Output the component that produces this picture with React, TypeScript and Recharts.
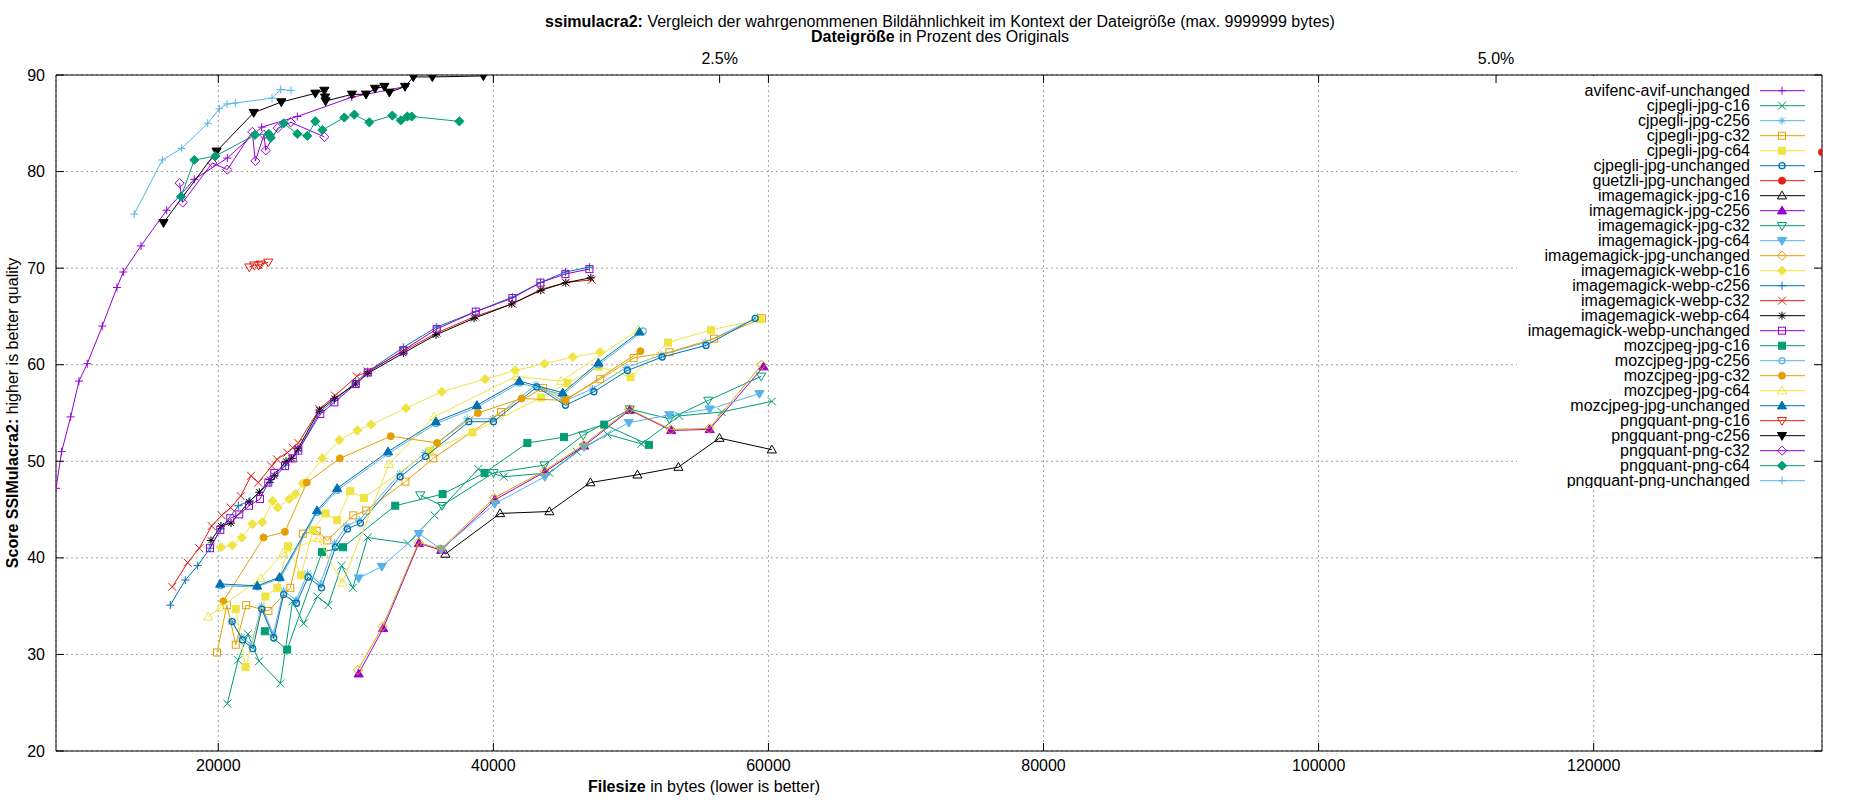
import { ScatterChart, Scatter, XAxis, YAxis, CartesianGrid, Legend } from "recharts";

// file size in bytes, SSIMulacra2 score
const avifencAvifUnchanged = [
  [8200, 47.2], [8611, 51.0], [9265, 54.6], [9869, 58.3], [10472, 60.1], [11563, 64.0], [12632, 68.0], [13091, 69.6],
  [14378, 72.3], [16247, 76.0], [18254, 79.2], [20655, 81.4], [23157, 84.6], [25746, 85.7], [29702, 87.7], [33579, 88.8],
];
const cjpegliJpgC16 = [
  [20655, 24.9], [21433, 29.4], [22153, 32.1], [22960, 29.3], [24516, 27.0], [25400, 35.5], [26211, 33.2], [27215, 36.0],
  [27993, 35.1], [28968, 39.2], [29782, 36.9], [30852, 42.1], [33775, 41.5], [35724, 44.4], [38903, 49.2], [40757, 48.4],
  [44073, 48.8], [46066, 51.0], [48284, 52.8], [50757, 51.8], [53513, 54.7], [56597, 55.1], [60248, 56.2],
];
const cjpegliJpgC256 = [
  [20950, 33.4], [21700, 31.8], [22400, 31.0], [23150, 35.0], [24000, 32.1], [24750, 36.6], [25650, 35.6], [26500, 38.4],
  [27420, 37.3], [28450, 41.5], [29300, 43.3], [30250, 43.9], [33200, 48.7], [35050, 50.9], [38100, 54.4], [39950, 54.4],
  [43100, 57.9], [45100, 56.2], [47200, 57.5], [49650, 59.7], [52200, 61.0], [55400, 62.3], [59200, 64.9],
];
const cjpegliJpgC32 = [
  [19906, 30.2], [20625, 35.1], [21273, 31.0], [22022, 35.1], [23644, 34.5], [25237, 36.9], [26146, 42.5], [27150, 42.8],
  [27928, 41.8], [29811, 44.4], [30757, 44.9], [33608, 47.9], [35623, 50.3], [40560, 55.1], [43615, 57.6], [45237, 56.4],
  [47768, 58.5], [50204, 60.7], [52801, 61.3], [56044, 62.7], [59522, 64.8],
];
const cjpegliJpgC64 = [
  [21273, 34.7], [21986, 28.7], [23418, 36.0], [24291, 36.9], [25069, 41.2], [26015, 38.2], [26887, 42.9], [27797, 44.6],
  [28640, 43.9], [29586, 46.9], [30590, 46.2], [35397, 51.1], [38481, 53.0], [43448, 56.6], [45397, 58.1], [47674, 59.8],
  [49972, 58.7], [52699, 62.3], [55819, 63.6], [59398, 64.7],
];
const cjpegliJpgUnchanged = [
  [21011, 33.4], [21760, 31.5], [22509, 30.6], [23156, 34.7], [24036, 31.7], [24749, 36.2], [25687, 35.3], [26531, 38.0],
  [27506, 36.9], [28517, 41.1], [29390, 43.0], [30335, 43.6], [33222, 48.4], [35070, 50.5], [38219, 54.1], [40008, 54.1],
  [43157, 57.7], [45237, 55.8], [47310, 57.2], [49747, 59.4], [52277, 60.8], [55463, 62.0], [59033, 64.8],
];
const guetzliJpgUnchanged = [[136600, 82.0]];
const imagemagickJpgC16 = [
  [36512, 40.4], [40488, 44.6], [44073, 44.8], [47055, 47.8], [50473, 48.6], [53455, 49.4], [56437, 52.4], [60248, 51.2],
];
const imagemagickJpgC256 = [
  [30204, 28.0], [31986, 32.7], [34582, 41.5], [36211, 40.8], [40102, 46.0], [43739, 48.9], [46597, 51.6], [49914, 55.3],
  [52932, 53.2], [55725, 53.3], [59638, 59.8],
];
const imagemagickJpgC32 = [
  [34684, 46.5], [36269, 45.4], [40008, 48.8], [43710, 49.6], [46531, 52.7], [49914, 55.4], [52801, 54.4], [55623, 56.3],
  [59470, 58.8],
];
const imagemagickJpgC64 = [
  [30204, 37.9], [31892, 39.1], [34582, 42.5], [36211, 40.9], [40102, 45.6], [43739, 48.4], [46597, 51.5], [49849, 54.0],
  [52801, 54.8], [55725, 55.4], [59347, 57.0],
];
const imagemagickJpgUnchanged = [
  [30150, 28.4], [31950, 32.9], [34560, 41.6], [36190, 40.9], [40050, 46.2], [43700, 49.0], [46560, 51.7], [49880, 55.4],
  [52900, 53.3], [55700, 53.4], [59500, 60.0],
];
const imagemagickWebpC16 = [
  [20196, 41.1], [21018, 41.3], [21702, 42.1], [22473, 43.5], [23200, 43.7], [23957, 45.9], [24320, 45.2], [25164, 46.1],
  [25600, 46.6], [26138, 47.7], [27564, 50.3], [28801, 52.2], [30110, 53.2], [31106, 53.8], [33652, 55.5], [36248, 57.2],
  [39397, 58.5], [41579, 59.4], [43710, 60.1], [45776, 60.8], [47761, 61.3],
];
const imagemagickWebpC256 = [
  [16509, 35.1], [17600, 37.7], [18502, 39.2], [19396, 41.0], [20175, 43.0], [21455, 45.4], [22306, 45.9], [23760, 47.8],
  [24900, 49.6], [25818, 51.1], [27418, 55.2], [28437, 56.3], [29993, 58.2], [30866, 59.3], [33455, 61.8], [35884, 63.9],
  [38721, 65.5], [41383, 67.0], [43419, 68.5], [45237, 69.6], [46983, 70.1],
];
const imagemagickWebpC32 = [
  [16654, 37.0], [17774, 39.5], [18618, 41.0], [19520, 43.3], [20247, 44.4], [20902, 45.2], [21629, 46.4], [22378, 48.5],
  [22909, 47.8], [23884, 49.5], [24269, 50.2], [25018, 50.9], [25411, 51.4], [25818, 51.9], [27346, 55.4], [28488, 56.8],
  [30066, 58.8], [30866, 59.3], [33455, 61.4], [35884, 63.3], [38670, 65.0], [41383, 66.3], [43448, 67.8], [45266, 68.5],
  [47157, 68.8],
];
const imagemagickWebpC64 = [
  [19469, 41.8], [20196, 43.3], [20924, 43.6], [22233, 45.8], [22982, 46.8], [23760, 48.1], [24073, 48.5], [24924, 50.0],
  [25338, 50.3], [25796, 51.3], [27346, 55.3], [28437, 56.5], [29993, 58.0], [30866, 59.1], [33455, 61.2], [35833, 63.1],
  [38597, 64.8], [41339, 66.3], [43448, 67.7], [45266, 68.5], [47085, 69.0],
];
const imagemagickWebpUnchanged = [
  [19396, 41.0], [20145, 42.9], [20873, 44.1], [21527, 44.5], [22233, 45.4], [23033, 46.1], [23637, 47.8], [24073, 48.8],
  [24851, 49.5], [25411, 50.3], [25818, 51.1], [27418, 54.9], [28437, 56.1], [29993, 58.0], [30866, 59.2], [33455, 61.5],
  [35884, 63.7], [38721, 65.5], [41383, 66.9], [43419, 68.5], [45237, 69.4], [46983, 69.9],
];
const mozcjpegJpgC16 = [
  [23382, 32.4], [25004, 30.5], [27542, 40.6], [29069, 41.1], [32866, 45.4], [36306, 46.6], [39360, 48.8], [42473, 51.9],
  [45135, 52.5], [48059, 53.8], [51310, 51.7],
];
const mozcjpegJpgC256 = [
  [20150, 37.1], [22850, 37.0], [24500, 37.9], [27190, 44.7], [28660, 47.0], [32360, 50.8], [35830, 53.9], [38820, 55.6],
  [41900, 58.1], [45050, 56.9], [47650, 60.0], [50900, 63.5],
];
const mozcjpegJpgC32 = [
  [20364, 35.5], [23287, 42.1], [24844, 42.7], [26437, 47.8], [28836, 50.3], [32540, 52.6], [35915, 51.9], [38873, 55.0],
  [42052, 56.5], [45237, 56.3], [50691, 61.4],
];
const mozcjpegJpgC64 = [
  [19273, 33.9], [20196, 34.9], [23084, 37.9], [24727, 40.5], [27273, 42.0], [29019, 37.4], [32415, 49.7], [35688, 54.6],
  [41652, 58.8], [44924, 58.3], [50540, 63.6],
];
const mozcjpegJpgUnchanged = [
  [20138, 37.3], [22829, 37.1], [24458, 38.0], [27178, 44.9], [28640, 47.2], [32342, 51.0], [35819, 54.1], [38808, 55.8],
  [41892, 58.3], [45040, 57.1], [47638, 60.2], [50626, 63.4],
];
const pngquantPngC16 = [[22255, 70.1], [22618, 70.3], [22938, 70.3], [23084, 70.4], [23636, 70.6]];
const pngquantPngC256 = [
  [16015, 74.7], [19876, 82.1], [22575, 86.1], [24582, 87.2], [27055, 88.1], [27709, 88.4], [27760, 87.7], [27800, 87.3],
  [29716, 88.0], [30742, 88.0], [31397, 88.6], [32073, 88.8], [32437, 88.2], [33579, 88.8], [34182, 89.8], [35564, 89.8],
  [39273, 89.9],
];
const pngquantPngC32 = [
  [17186, 78.8], [17411, 76.8], [19564, 80.9], [20655, 80.2], [22473, 84.1], [22691, 81.1], [23324, 83.8], [23447, 82.2],
  [24320, 84.5], [25266, 85.1], [27709, 83.6],
];
const pngquantPngC64 = [
  [17287, 77.4], [18255, 81.2], [19782, 81.6], [22669, 83.8], [23665, 83.9], [23811, 83.5], [24756, 85.0], [25745, 83.9],
  [26473, 83.7], [27055, 85.2], [27564, 84.3], [29164, 85.6], [29891, 85.9], [30982, 85.1], [32655, 85.8], [33266, 85.3],
  [33746, 85.7], [34066, 85.7], [37528, 85.2],
];
const pngquantPngUnchanged = [
  [13891, 75.6], [15927, 81.2], [17338, 82.4], [19229, 85.0], [20073, 86.5], [20633, 87.0], [21236, 87.1], [23906, 87.6],
  [24538, 88.5], [25287, 88.4],
];

const xTicks = [20000, 40000, 60000, 80000, 100000, 120000];
const yTicks = [20, 30, 40, 50, 60, 70, 80, 90];
const percentTicks = [2.5, 5.0];
const ORIGINAL_BYTES = 2258000;

const X_DOMAIN = [8200, 136600];
const FONT = '"Liberation Sans", Arial, Helvetica, sans-serif';

const C = ["#9400d3", "#009e73", "#56b4e9", "#e69f00", "#f0e442", "#0072b2", "#e51e10", "#000000"];

type Kind =
  | "plus" | "cross" | "star" | "box" | "boxFill" | "circle" | "circleFill"
  | "triUp" | "triUpFill" | "triDown" | "triDownFill" | "diamond" | "diamondFill";

const SERIES: { name: string; data: number[][]; color: string; kind: Kind }[] = [
  { name: "avifenc-avif-unchanged", data: avifencAvifUnchanged, color: C[0], kind: "plus" },
  { name: "cjpegli-jpg-c16", data: cjpegliJpgC16, color: C[1], kind: "cross" },
  { name: "cjpegli-jpg-c256", data: cjpegliJpgC256, color: C[2], kind: "star" },
  { name: "cjpegli-jpg-c32", data: cjpegliJpgC32, color: C[3], kind: "box" },
  { name: "cjpegli-jpg-c64", data: cjpegliJpgC64, color: C[4], kind: "boxFill" },
  { name: "cjpegli-jpg-unchanged", data: cjpegliJpgUnchanged, color: C[5], kind: "circle" },
  { name: "guetzli-jpg-unchanged", data: guetzliJpgUnchanged, color: C[6], kind: "circleFill" },
  { name: "imagemagick-jpg-c16", data: imagemagickJpgC16, color: C[7], kind: "triUp" },
  { name: "imagemagick-jpg-c256", data: imagemagickJpgC256, color: C[0], kind: "triUpFill" },
  { name: "imagemagick-jpg-c32", data: imagemagickJpgC32, color: C[1], kind: "triDown" },
  { name: "imagemagick-jpg-c64", data: imagemagickJpgC64, color: C[2], kind: "triDownFill" },
  { name: "imagemagick-jpg-unchanged", data: imagemagickJpgUnchanged, color: C[3], kind: "diamond" },
  { name: "imagemagick-webp-c16", data: imagemagickWebpC16, color: C[4], kind: "diamondFill" },
  { name: "imagemagick-webp-c256", data: imagemagickWebpC256, color: C[5], kind: "plus" },
  { name: "imagemagick-webp-c32", data: imagemagickWebpC32, color: C[6], kind: "cross" },
  { name: "imagemagick-webp-c64", data: imagemagickWebpC64, color: C[7], kind: "star" },
  { name: "imagemagick-webp-unchanged", data: imagemagickWebpUnchanged, color: C[0], kind: "box" },
  { name: "mozcjpeg-jpg-c16", data: mozcjpegJpgC16, color: C[1], kind: "boxFill" },
  { name: "mozcjpeg-jpg-c256", data: mozcjpegJpgC256, color: C[2], kind: "circle" },
  { name: "mozcjpeg-jpg-c32", data: mozcjpegJpgC32, color: C[3], kind: "circleFill" },
  { name: "mozcjpeg-jpg-c64", data: mozcjpegJpgC64, color: C[4], kind: "triUp" },
  { name: "mozcjpeg-jpg-unchanged", data: mozcjpegJpgUnchanged, color: C[5], kind: "triUpFill" },
  { name: "pngquant-png-c16", data: pngquantPngC16, color: C[6], kind: "triDown" },
  { name: "pngquant-png-c256", data: pngquantPngC256, color: C[7], kind: "triDownFill" },
  { name: "pngquant-png-c32", data: pngquantPngC32, color: C[0], kind: "diamond" },
  { name: "pngquant-png-c64", data: pngquantPngC64, color: C[1], kind: "diamondFill" },
  { name: "pngquant-png-unchanged", data: pngquantPngUnchanged, color: C[2], kind: "plus" },
];

function Marker({ kind, cx, cy, color }: { kind: Kind; cx: number; cy: number; color: string }) {
  const s = 4;
  const t = 4.6;
  switch (kind) {
    case "plus":
      return <path d={`M${cx - s},${cy}H${cx + s}M${cx},${cy - s}V${cy + s}`} stroke={color} fill="none" />;
    case "cross":
      return <path d={`M${cx - s},${cy - s}L${cx + s},${cy + s}M${cx - s},${cy + s}L${cx + s},${cy - s}`} stroke={color} fill="none" />;
    case "star":
      return (
        <path
          d={`M${cx - s},${cy}H${cx + s}M${cx},${cy - s}V${cy + s}M${cx - 3},${cy - 3}L${cx + 3},${cy + 3}M${cx - 3},${cy + 3}L${cx + 3},${cy - 3}`}
          stroke={color}
          fill="none"
        />
      );
    case "box":
      return <rect x={cx - 3.5} y={cy - 3.5} width={7} height={7} stroke={color} fill="none" />;
    case "boxFill":
      return <rect x={cx - 3.5} y={cy - 3.5} width={7} height={7} stroke={color} fill={color} />;
    case "circle":
      return <circle cx={cx} cy={cy} r={3} stroke={color} strokeWidth={1.3} fill="none" />;
    case "circleFill":
      return <circle cx={cx} cy={cy} r={3.5} stroke={color} fill={color} />;
    case "triUp":
    case "triUpFill":
      return (
        <path
          d={`M${cx},${cy - t}L${cx + t},${cy + t * 0.7}L${cx - t},${cy + t * 0.7}Z`}
          stroke={color}
          fill={kind === "triUpFill" ? color : "none"}
        />
      );
    case "triDown":
    case "triDownFill":
      return (
        <path
          d={`M${cx},${cy + t}L${cx + t},${cy - t * 0.7}L${cx - t},${cy - t * 0.7}Z`}
          stroke={color}
          fill={kind === "triDownFill" ? color : "none"}
        />
      );
    case "diamond":
    case "diamondFill":
      return (
        <path
          d={`M${cx},${cy - t}L${cx + t},${cy}L${cx},${cy + t}L${cx - t},${cy}Z`}
          stroke={color}
          fill={kind === "diamondFill" ? color : "none"}
        />
      );
  }
  return null;
}

const percentValues = percentTicks.map((p) => (p / 100) * ORIGINAL_BYTES);

const BottomTick = (p: any) => (
  <g>
    <line x1={p.x} x2={p.x} y1={p.y} y2={p.y - 8} stroke="#000" />
    <text x={p.x} y={p.y + 20} textAnchor="middle" fontSize={16} fontFamily={FONT} fill="#000">
      {p.payload.value}
    </text>
  </g>
);

const TopTick = (p: any) => {
  const idx = percentValues.indexOf(p.payload.value);
  return (
    <g>
      <line x1={p.x} x2={p.x} y1={p.y} y2={p.y + 8} stroke="#000" />
      {idx >= 0 && (
        <text x={p.x} y={p.y - 11} textAnchor="middle" fontSize={16} fontFamily={FONT} fill="#000">
          {percentTicks[idx].toFixed(1)}%
        </text>
      )}
    </g>
  );
};

const LeftTick = (p: any) => (
  <g>
    <line x1={p.x} x2={p.x + 8} y1={p.y} y2={p.y} stroke="#000" />
    <text x={p.x - 11} y={p.y} dy="0.35em" textAnchor="end" fontSize={16} fontFamily={FONT} fill="#000">
      {p.payload.value}
    </text>
  </g>
);

const RightTick = (p: any) => <line x1={p.x} x2={p.x - 8} y1={p.y} y2={p.y} stroke="#000" />;

const TitleLabel = () => (
  <g fontFamily={FONT} fontSize={16} fill="#000">
    <text x={940} y={27} textAnchor="middle">
      <tspan fontWeight="bold">ssimulacra2:</tspan> Vergleich der wahrgenommenen Bildähnlichkeit im Kontext der Dateigröße (max. 9999999 bytes)
    </text>
    <text x={940} y={42} textAnchor="middle">
      <tspan fontWeight="bold">Dateigröße</tspan> in Prozent des Originals
    </text>
  </g>
);

const XLabel = () => (
  <text x={704} y={792} textAnchor="middle" fontFamily={FONT} fontSize={16} fill="#000">
    <tspan fontWeight="bold">Filesize</tspan> in bytes (lower is better)
  </text>
);

const YLabel = () => (
  <text
    x={0}
    y={0}
    transform="translate(18,413) rotate(-90)"
    textAnchor="middle"
    fontFamily={FONT}
    fontSize={16}
    fill="#000"
  >
    <tspan fontWeight="bold">Score SSIMulacra2:</tspan> higher is better quality
  </text>
);

const KEY_W = 296;
const KEY_H = 412;
const KEY_ROW = 15;

function KeyBox() {
  return (
    <svg width={KEY_W} height={KEY_H} style={{ display: "block" }}>
      <rect x={0} y={0} width={KEY_W} height={KEY_H} fill="#fff" />
      {SERIES.map((s, i) => {
        const y = 14.7 + i * KEY_ROW;
        return (
          <g key={s.name}>
            <text x={233} y={y} dy="0.35em" textAnchor="end" fontFamily={FONT} fontSize={16} fill="#000">
              {s.name}
            </text>
            <line x1={243} x2={288} y1={y} y2={y} stroke={s.color} />
            <Marker kind={s.kind} cx={265} cy={y} color={s.color} />
          </g>
        );
      })}
    </svg>
  );
}

export default function App() {
  return (
    <div style={{ position: "absolute", left: 0, top: 0, width: 1850, height: 800, background: "#fff", fontFamily: FONT }}>
      <ScatterChart width={1850} height={800} margin={{ top: 45, right: 18, bottom: 19, left: 16 }}>
        <CartesianGrid xAxisId="bottom" yAxisId="left" stroke="#a0a0a0" strokeDasharray="2 3" />
        <XAxis
          xAxisId="bottom"
          type="number"
          dataKey="x"
          domain={X_DOMAIN}
          allowDataOverflow
          ticks={xTicks}
          interval={0}
          height={30}
          tickSize={0}
          tickMargin={0}
          tickLine={false}
          axisLine={{ stroke: "#000" }}
          tick={BottomTick}
          label={<XLabel />}
        />
        <XAxis
          xAxisId="top"
          orientation="top"
          type="number"
          dataKey="x"
          domain={X_DOMAIN}
          allowDataOverflow
          ticks={[...xTicks, ...percentValues]}
          interval={0}
          height={30}
          tickSize={0}
          tickMargin={0}
          tickLine={false}
          axisLine={{ stroke: "#000" }}
          tick={TopTick}
          label={<TitleLabel />}
        />
        <YAxis
          yAxisId="left"
          type="number"
          dataKey="y"
          domain={[20, 90]}
          allowDataOverflow
          ticks={yTicks}
          interval={0}
          width={40}
          tickSize={0}
          tickMargin={0}
          tickLine={false}
          axisLine={{ stroke: "#000" }}
          tick={LeftTick}
          label={<YLabel />}
        />
        <YAxis
          yAxisId="right"
          orientation="right"
          type="number"
          dataKey="y"
          domain={[20, 90]}
          allowDataOverflow
          ticks={yTicks}
          interval={0}
          width={10}
          tickSize={0}
          tickMargin={0}
          tickLine={false}
          axisLine={{ stroke: "#000" }}
          tick={RightTick}
        />
        {SERIES.map((s) => (
          <Scatter
            key={s.name}
            name={s.name}
            xAxisId="bottom"
            yAxisId="left"
            data={s.data.map(([x, y]) => ({ x, y }))}
            line={{ stroke: s.color, strokeWidth: 1 }}
            lineType="joint"
            isAnimationActive={false}
            shape={(p: any) => <Marker kind={s.kind} cx={p.cx} cy={p.cy} color={s.color} />}
          />
        ))}
        <Legend
          layout="vertical"
          align="center"
          verticalAlign="middle"
          wrapperStyle={{ left: 1517, top: 76, width: KEY_W, height: KEY_H }}
          content={() => <KeyBox />}
        />
      </ScatterChart>
    </div>
  );
}
